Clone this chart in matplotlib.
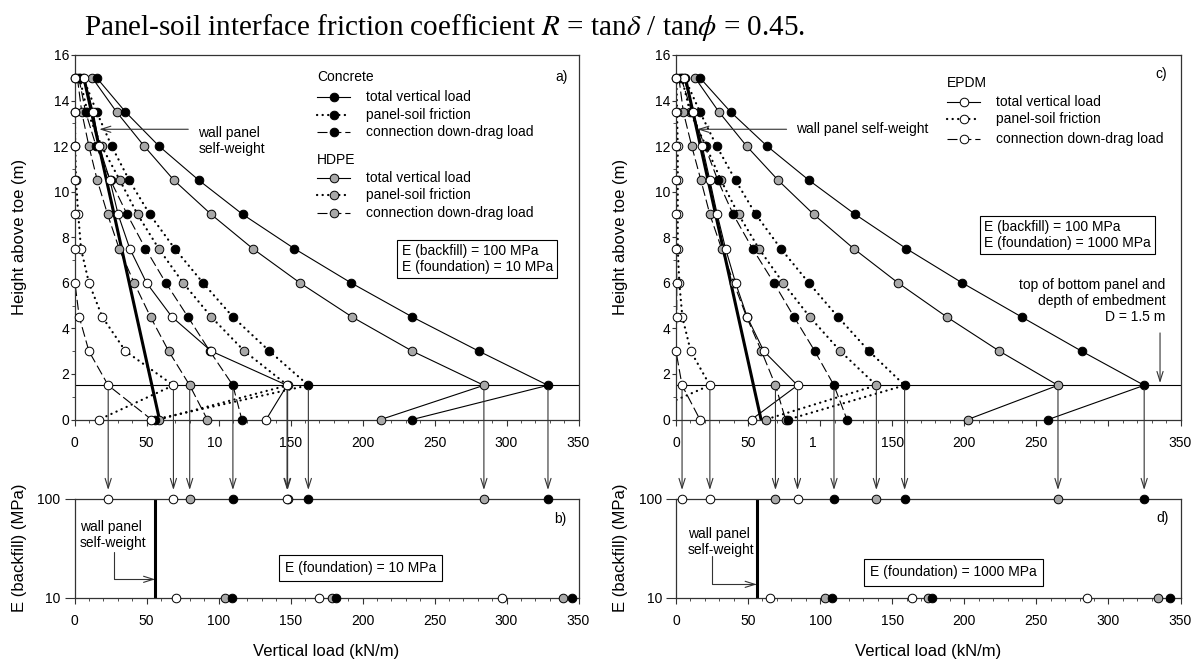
"""
Vertical loads on wall panels: panel-soil friction, connection down-drag and
total vertical load for three connection materials (R = 0.45).
Output: out.png
"""

import numpy as np
import matplotlib
matplotlib.use('Agg')
import matplotlib.pyplot as plt
import matplotlib.transforms as mtransforms
from matplotlib.ticker import MultipleLocator, FixedLocator, NullLocator

plt.rcParams['font.family'] = ['Liberation Sans', 'DejaVu Sans']
plt.rcParams['mathtext.fontset'] = 'stix'

W, H = 1192, 660
GRAY = '#A8A8A8'
SPINE = '#333333'

# ── data ──────────────────────────────────────────────────────────────────
HEIGHTS = [15, 13.5, 12, 10.5, 9, 7.5, 6, 4.5, 3, 1.5, 0]
EMBED_IDX = 9                     # index of height 1.5 m (D)
SELF_WEIGHT_Y = [15, 0]
SELF_WEIGHT_X = [6.5, 59.0]
SELF_WEIGHT_BOTTOM = 56.0

# a) E(backfill) = 100 MPa, E(foundation) = 10 MPa
A_CONC_TOTAL = [15.4, 35.4, 58.7, 86.4, 116.9, 152.7, 192.0, 234.6, 280.8, 328.8, 234.6]
A_CONC_FRIC = [6.0, 15.4, 25.8, 38.0, 52.3, 69.6, 89.2, 110.0, 135.4, 162.4, 55.7]
A_CONC_DRAG = [3.0, 7.7, 15.0, 25.0, 36.6, 49.3, 63.4, 78.8, 94.0, 110.0, 116.2]
A_HDPE_TOTAL = [12.3, 29.2, 48.4, 69.1, 95.0, 123.8, 156.5, 192.8, 234.6, 284.3, 212.7]
A_HDPE_FRIC = [3.5, 9.0, 18.8, 31.5, 43.8, 58.5, 75.4, 95.0, 118.0, 148.0, 58.7]
A_HDPE_DRAG = [2.0, 5.0, 10.0, 15.8, 23.0, 31.0, 41.4, 52.8, 65.4, 80.0, 92.2]
A_EPDM_TOTAL = [6.5, 13.0, 17.2, 24.6, 30.3, 38.4, 50.0, 67.7, 95.0, 147.6, 133.1]
A_EPDM_FRIC = [0.0, 0.3, 0.5, 1.0, 2.6, 4.5, 10.0, 19.3, 35.4, 68.7, 17.2]
A_EPDM_DRAG = [0.0, 0.0, 0.0, 0.0, 0.3, 0.3, 0.3, 3.3, 10.0, 23.4, 53.4]

# c) E(backfill) = 100 MPa, E(foundation) = 1000 MPa
C_CONC_TOTAL = [16.6, 37.9, 63.2, 92.3, 124.4, 159.8, 198.5, 239.8, 281.4, 324.8, 258.3]
C_CONC_FRIC = [6.0, 16.6, 28.2, 41.3, 55.4, 72.7, 92.1, 112.4, 133.9, 158.6, 77.8]
C_CONC_DRAG = [3.5, 11.0, 20.0, 29.0, 39.7, 53.1, 67.9, 81.9, 96.3, 109.6, 118.6]
C_HDPE_TOTAL = [13.2, 29.8, 49.0, 70.9, 95.6, 123.3, 154.0, 187.9, 224.4, 265.0, 202.4]
C_HDPE_FRIC = [4.0, 9.7, 20.8, 31.2, 43.4, 57.5, 74.3, 92.8, 114.0, 139.0, 62.3]
C_HDPE_DRAG = [2.0, 5.1, 10.9, 17.3, 23.5, 31.6, 40.0, 49.0, 59.3, 69.0, 76.0]
C_EPDM_TOTAL = [5.5, 12.0, 18.2, 23.5, 28.6, 34.4, 41.3, 49.4, 60.9, 84.3, 52.4]
C_EPDM_FRIC = [0.3, 0.7, 1.2, 1.2, 1.2, 1.2, 2.3, 4.4, 10.2, 23.5, -31.0]
C_EPDM_DRAG = [0.0, 0.0, 0.0, 0.0, 0.0, 0.3, 0.5, 0.5, 0.0, 4.2, 16.6]

# b), d) E(backfill) = 10 MPa row: [down-drag, friction, total]
B10_EPDM = [70.5, 169.8, 296.7]
B10_HDPE = [104.5, 178.9, 339.0]
B10_CONC = [109.5, 181.4, 345.4]
D10_EPDM = [65.1, 163.9, 284.8]
D10_HDPE = [103.2, 175.0, 334.5]
D10_CONC = [108.5, 177.3, 342.6]

X_TICKS = [0, 50, 100, 150, 200, 250, 300, 350]
A_XTICKLABELS = ['0', '50', '10', '150', '200', '250', '300', '350']
C_XTICKLABELS = ['0', '50', '1', '150', '200', '250', '', '350']
Y_TICKS = [0, 2, 4, 6, 8, 10, 12, 14, 16]

STYLES = {
    'total': dict(linestyle='-', linewidth=0.8),
    'fric': dict(linestyle=(0, (0.1, 2.4)), linewidth=1.6, dash_capstyle='round'),
    'drag': dict(linestyle=(0, (9, 3.5)), linewidth=0.8),
}
MARKER = dict(marker='o', markersize=6.2, markeredgecolor='black', markeredgewidth=0.7)
ARROW = dict(arrowstyle='->,head_length=0.7,head_width=0.22', color='#333333',
             lw=0.8, shrinkA=0, shrinkB=0)


def rect(left, top, right, bottom):
    return [left / W, 1 - bottom / H, (right - left) / W, (bottom - top) / H]


def draw_series(ax, xs, kind, face):
    xs = np.asarray(xs, float)
    ys = np.asarray(HEIGHTS, float)
    ax.plot(xs, ys, color='black', zorder=2, **STYLES[kind])
    keep = xs >= 0
    ax.plot(xs[keep], ys[keep], linestyle='none', markerfacecolor=face,
            zorder=3, clip_on=False, **MARKER)


def style_axis(ax, labels):
    ax.set_xlim(0, 350)
    ax.xaxis.set_major_locator(FixedLocator(X_TICKS))
    ax.xaxis.set_minor_locator(MultipleLocator(10))
    out = ax.set_xticklabels(labels)
    ax.tick_params(axis='x', which='major', direction='out', length=4, pad=8,
                   labelsize=10, color=SPINE)
    ax.tick_params(axis='x', which='minor', direction='out', length=2.5, color=SPINE)
    for sp in ax.spines.values():
        sp.set_linewidth(0.9)
        sp.set_color(SPINE)
    return out


def shift_label(fig, lbl, dx_px):
    off = mtransforms.ScaledTranslation(dx_px / 100, 0, fig.dpi_scale_trans)
    lbl.set_transform(lbl.get_transform() + off)


def top_panel(ax, series, labels):
    for kind, face, xs in series:
        draw_series(ax, xs, kind, face)
    ax.axhline(1.5, color='black', lw=0.8, zorder=1)
    ax.plot(SELF_WEIGHT_X, SELF_WEIGHT_Y, color='black', lw=2.2, zorder=2.5)
    ax.set_ylim(0, 16)
    ax.yaxis.set_major_locator(FixedLocator(Y_TICKS))
    ax.yaxis.set_minor_locator(MultipleLocator(1))
    ax.tick_params(axis='y', which='major', direction='out', length=3, pad=1,
                   labelsize=10, color=SPINE)
    ax.tick_params(axis='y', which='minor', direction='out', length=2, color=SPINE)
    ax.set_ylabel('Height above toe (m)', fontsize=12)
    ax.yaxis.set_label_coords(-0.095, 0.5)
    return style_axis(ax, labels)


def bottom_panel(ax, top_series, low_rows):
    for kind, face, xs in top_series:
        ax.plot([xs[EMBED_IDX]], [100], linestyle='none', markerfacecolor=face,
                zorder=3, clip_on=False, **MARKER)
    for face, vals in low_rows:
        ax.plot(vals, [10] * len(vals), linestyle='none', markerfacecolor=face,
                zorder=3, clip_on=False, **MARKER)
    ax.axvline(SELF_WEIGHT_BOTTOM, color='black', lw=2.2, zorder=2)
    ax.set_yscale('log')
    ax.set_ylim(10, 100)
    ax.yaxis.set_major_locator(FixedLocator([10, 100]))
    ax.yaxis.set_minor_locator(NullLocator())
    ax.set_yticklabels(['10', '100'])
    ax.tick_params(axis='y', which='major', direction='out', length=7, pad=3,
                   labelsize=10, color=SPINE)
    ax.set_ylabel('E (backfill) (MPa)', fontsize=12)
    ax.yaxis.set_label_coords(-0.095, 0.5)
    ax.set_xlabel('Vertical load (kN/m)', fontsize=12)
    ax.xaxis.set_label_coords(0.5, -0.47)
    style_axis(ax, [str(t) for t in X_TICKS])


def connect(ax_top, ax_bot, top_series):
    for kind, face, xs in top_series:
        x = xs[EMBED_IDX]
        ax_bot.annotate('', xy=(x, 100), xycoords='data', xytext=(x, 1.5),
                        textcoords=ax_top.transData, annotation_clip=False,
                        arrowprops=dict(ARROW, shrinkA=3, shrinkB=6.5), zorder=1)


def legend_block(ax, title, face, x0, x1, xt, ytitle, rows):
    ax.text(x0, ytitle, title, transform=ax.transAxes, fontsize=10,
            va='center', ha='left')
    names = {'total': 'total vertical load', 'fric': 'panel-soil friction',
             'drag': 'connection down-drag load'}
    for kind, y in zip(['total', 'fric', 'drag'], rows):
        ax.plot([x0, x1], [y, y], transform=ax.transAxes, color='black',
                clip_on=False, **STYLES[kind])
        ax.plot([(x0 + x1) / 2], [y], transform=ax.transAxes, linestyle='none',
                markerfacecolor=face, clip_on=False, **MARKER)
        ax.text(xt, y, names[kind], transform=ax.transAxes, fontsize=10,
                va='center', ha='left')


def plot():
    fig = plt.figure(figsize=(W / 100, H / 100), dpi=100)
    ax_a = fig.add_axes(rect(74.5, 55, 578.5, 419.5))
    ax_c = fig.add_axes(rect(676, 55, 1180.5, 419.5))
    ax_b = fig.add_axes(rect(74.5, 499, 578.5, 597.5))
    ax_d = fig.add_axes(rect(676, 499, 1180.5, 597.5))

    a_series = [
        ('total', GRAY, A_HDPE_TOTAL), ('fric', GRAY, A_HDPE_FRIC), ('drag', GRAY, A_HDPE_DRAG),
        ('total', 'black', A_CONC_TOTAL), ('fric', 'black', A_CONC_FRIC), ('drag', 'black', A_CONC_DRAG),
        ('total', 'white', A_EPDM_TOTAL), ('fric', 'white', A_EPDM_FRIC), ('drag', 'white', A_EPDM_DRAG),
    ]
    c_series = [
        ('total', GRAY, C_HDPE_TOTAL), ('fric', GRAY, C_HDPE_FRIC), ('drag', GRAY, C_HDPE_DRAG),
        ('total', 'black', C_CONC_TOTAL), ('fric', 'black', C_CONC_FRIC), ('drag', 'black', C_CONC_DRAG),
        ('total', 'white', C_EPDM_TOTAL), ('fric', 'white', C_EPDM_FRIC), ('drag', 'white', C_EPDM_DRAG),
    ]

    # ── a) ──
    lbls = top_panel(ax_a, a_series, A_XTICKLABELS)
    shift_label(fig, lbls[2], -3.9)
    legend_block(ax_a, 'Concrete', 'black', 0.481, 0.547, 0.579, 0.9405,
                 [0.884, 0.835, 0.788])
    legend_block(ax_a, 'HDPE', GRAY, 0.481, 0.547, 0.579, 0.712,
                 [0.663, 0.615, 0.566])
    ax_a.text(0.979, 0.94, 'a)', transform=ax_a.transAxes, fontsize=10,
              ha='right', va='center')
    ax_a.text(0.649, 0.44, 'E (backfill) = 100 MPa\nE (foundation) = 10 MPa',
              transform=ax_a.transAxes, fontsize=10, ha='left', va='center',
              linespacing=1.2,
              bbox=dict(boxstyle='square,pad=0.3', fc='white', ec='black', lw=0.8))
    ax_a.annotate('', xy=(17.2, 12.74), xytext=(79, 12.74), arrowprops=ARROW)
    ax_a.text(0.2456, 0.764, 'wall panel\nself-weight', transform=ax_a.transAxes,
              fontsize=10, ha='left', va='center', linespacing=1.2)

    # ── c) ──
    lbls = top_panel(ax_c, c_series, C_XTICKLABELS)
    shift_label(fig, lbls[2], -7.7)
    legend_block(ax_c, 'EPDM', 'white', 0.537, 0.603, 0.634, 0.9224,
                 [0.872, 0.824, 0.770])
    ax_c.text(0.974, 0.948, 'c)', transform=ax_c.transAxes, fontsize=10,
              ha='right', va='center')
    ax_c.text(0.6105, 0.506, 'E (backfill) = 100 MPa\nE (foundation) = 1000 MPa',
              transform=ax_c.transAxes, fontsize=10, ha='left', va='center',
              linespacing=1.2,
              bbox=dict(boxstyle='square,pad=0.3', fc='white', ec='black', lw=0.8))
    ax_c.annotate('', xy=(14.8, 12.74), xytext=(76.7, 12.74), arrowprops=ARROW)
    ax_c.text(83.1, 12.74, 'wall panel self-weight', fontsize=10,
              ha='left', va='center')
    ax_c.text(0.9707, 0.325, 'top of bottom panel and\ndepth of embedment\nD = 1.5 m',
              transform=ax_c.transAxes, fontsize=10, ha='right', va='center',
              multialignment='right', linespacing=1.2)
    ax_c.annotate('', xy=(335.8, 1.6), xytext=(335.8, 3.8), arrowprops=ARROW)

    # ── b) ──
    bottom_panel(ax_b, a_series,
                 [(GRAY, B10_HDPE), ('black', B10_CONC), ('white', B10_EPDM)])
    connect(ax_a, ax_b, a_series)
    ax_b.text(0.977, 0.80, 'b)', transform=ax_b.transAxes, fontsize=10,
              ha='right', va='center')
    ax_b.text(0.5675, 0.30, 'E (foundation) = 10 MPa', transform=ax_b.transAxes,
              fontsize=10, ha='center', va='center',
              bbox=dict(boxstyle='square,pad=0.45', fc='white', ec='black', lw=0.8))
    ax_b.text(3.5, 10 ** 1.6376, 'wall panel\nself-weight', fontsize=10,
              ha='left', va='center', linespacing=1.2)
    ax_b.annotate('', xy=(SELF_WEIGHT_BOTTOM, 15.3), xytext=(27.6, 29.2),
                  arrowprops=dict(ARROW, connectionstyle='angle,angleA=90,angleB=0,rad=0'))

    # ── d) ──
    bottom_panel(ax_d, c_series,
                 [(GRAY, D10_HDPE), ('black', D10_CONC), ('white', D10_EPDM)])
    connect(ax_c, ax_d, c_series)
    ax_d.text(0.977, 0.81, 'd)', transform=ax_d.transAxes, fontsize=10,
              ha='right', va='center')
    ax_d.text(0.55, 0.254, 'E (foundation) = 1000 MPa', transform=ax_d.transAxes,
              fontsize=10, ha='center', va='center',
              bbox=dict(boxstyle='square,pad=0.45', fc='white', ec='black', lw=0.8))
    ax_d.text(8.0, 10 ** 1.5635, 'wall panel\nself-weight', fontsize=10,
              ha='left', va='center', linespacing=1.2)
    ax_d.annotate('', xy=(SELF_WEIGHT_BOTTOM, 13.6), xytext=(25.1, 26.4),
                  arrowprops=dict(ARROW, connectionstyle='angle,angleA=90,angleB=0,rad=0'))

    fig.text(84 / W, 1 - 35 / H,
             r'Panel-soil interface friction coefficient $R$ = tan$\delta$ / tan$\phi$ = 0.45.',
             fontsize=21, family='Liberation Serif', ha='left', va='baseline')

    fig.savefig('out.png', dpi=100)
    plt.close(fig)


if __name__ == '__main__':
    plot()
